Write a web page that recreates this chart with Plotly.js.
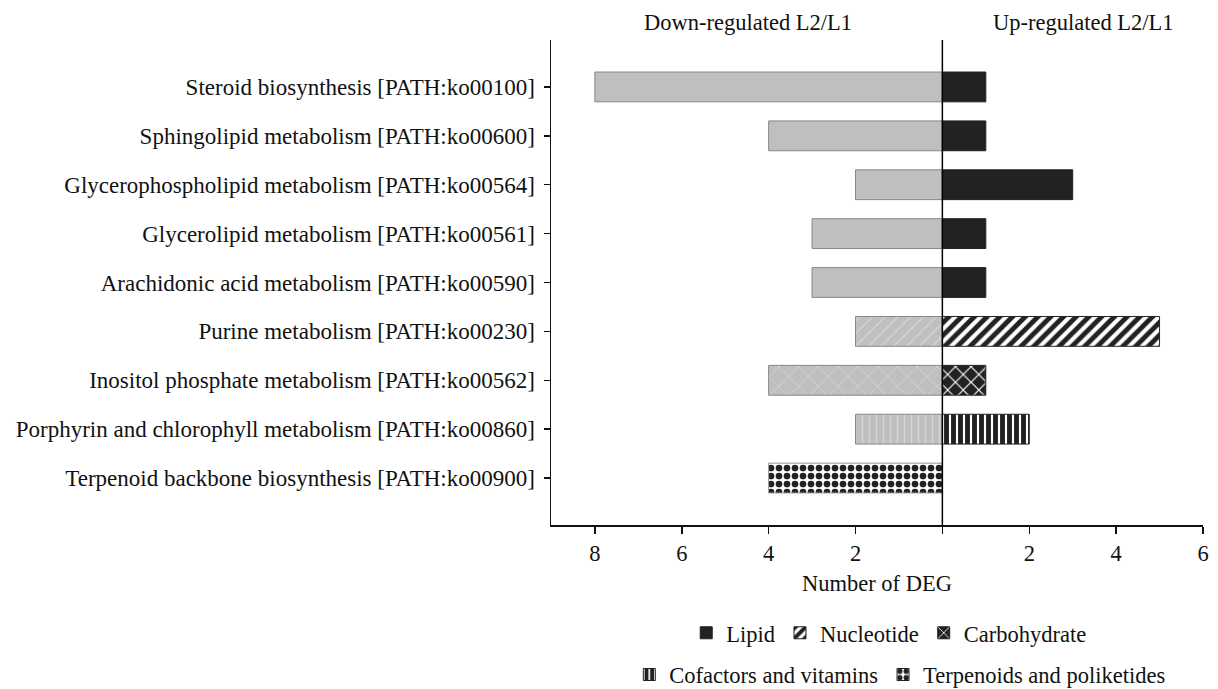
<!DOCTYPE html>
<html>
<head>
<meta charset="utf-8">
<script src="https://cdn.plot.ly/plotly-3.0.1.min.js"></script>
<style>html,body{margin:0;padding:0;background:#fff;}#chart{width:1218px;height:689px;}</style>
</head>
<body>
<div id="chart"></div>
<script>
// ---- data ----
const categories = [
  'Steroid biosynthesis [PATH:ko00100]',
  'Sphingolipid metabolism [PATH:ko00600]',
  'Glycerophospholipid metabolism [PATH:ko00564]',
  'Glycerolipid metabolism [PATH:ko00561]',
  'Arachidonic acid metabolism [PATH:ko00590]',
  'Purine metabolism [PATH:ko00230]',
  'Inositol phosphate metabolism [PATH:ko00562]',
  'Porphyrin and chlorophyll metabolism [PATH:ko00860]',
  'Terpenoid backbone biosynthesis [PATH:ko00900]'
];
const downValues = [8, 4, 2, 3, 3, 2, 4, 2, 4];
const upValues   = [1, 1, 3, 1, 1, 5, 1, 2, 0];
const groups = ['Lipid','Lipid','Lipid','Lipid','Lipid','Nucleotide','Carbohydrate','Cofactors and vitamins','Terpenoids and poliketides'];
const groupNames = ['Lipid','Nucleotide','Carbohydrate','Cofactors and vitamins','Terpenoids and poliketides'];
const xTickVals = [-8, -6, -4, -2, 0, 2, 4, 6];
const xTickText = ['8', '6', '4', '2', '', '2', '4', '6'];

// ---- styles ----
const FONT = '"Liberation Serif", "Times New Roman", serif';
const FS = 22.5;
const upStyle = {
  'Lipid': {shape: '', fg: '#222', bg: '#222', size: 8, solidity: 0.3},
  'Nucleotide': {shape: '/', fg: '#222', bg: '#ffffff', size: 9, solidity: 0.55},
  'Carbohydrate': {shape: 'x', fg: '#ffffff', bg: '#222', size: 11, solidity: 0.2},
  'Cofactors and vitamins': {shape: '|', fg: '#222', bg: '#ffffff', size: 7, solidity: 0.7},
  'Terpenoids and poliketides': {shape: '.', fg: '#222', bg: '#ffffff', size: 8, solidity: 0.55}
};
const downStyle = {
  'Lipid': {shape: '', fg: '#bfbfbf', bg: '#bfbfbf', size: 8, solidity: 0.3},
  'Nucleotide': {shape: '/', fg: '#d6d6d6', bg: '#bfbfbf', size: 9, solidity: 0.15},
  'Carbohydrate': {shape: 'x', fg: '#d6d6d6', bg: '#bfbfbf', size: 14, solidity: 0.12},
  'Cofactors and vitamins': {shape: '|', fg: '#d6d6d6', bg: '#bfbfbf', size: 7, solidity: 0.2},
  'Terpenoids and poliketides': {shape: '.', fg: '#222', bg: '#ffffff', size: 8, solidity: 0.55}
};

const traces = [];
groupNames.forEach((g, gi) => {
  const ys = [], dn = [], up = [];
  categories.forEach((c, i) => {
    if (groups[i] === g) { ys.push(c); dn.push(-downValues[i]); up.push(upValues[i]); }
  });
  const ds = downStyle[g], us = upStyle[g];
  traces.push({
    type: 'bar', orientation: 'h', y: ys, x: dn, showlegend: false, hoverinfo: 'skip',
    marker: {
      color: ds.bg,
      line: {color: g === 'Terpenoids and poliketides' ? '#999' : '#888', width: 1},
      pattern: {shape: ds.shape, fgcolor: ds.fg, bgcolor: ds.bg, size: ds.size, solidity: ds.solidity, fillmode: 'replace'}
    }
  });
  traces.push({
    type: 'bar', orientation: 'h', y: ys, x: up, name: g,
    legend: gi < 3 ? 'legend' : 'legend2', hoverinfo: 'skip',
    marker: {
      color: us.bg,
      line: {color: '#222', width: 1},
      pattern: {shape: us.shape, fgcolor: us.fg, bgcolor: us.bg, size: us.size, solidity: us.solidity, fillmode: 'replace'}
    }
  });
});

const layout = {
  width: 1218, height: 689,
  margin: {l: 551, r: 15, t: 40, b: 164, autoexpand: false},
  paper_bgcolor: '#fff', plot_bgcolor: '#fff',
  font: {family: FONT, size: FS, color: '#111'},
  barmode: 'relative',
  bargap: 0.39,
  xaxis: {
    range: [-9.01, 6], tickvals: xTickVals, ticktext: xTickText,
    ticks: 'outside', ticklen: 7, tickwidth: 1.5, tickcolor: '#111',
    showline: true, linecolor: '#111', linewidth: 1.5, showgrid: false, zeroline: false,
    tickfont: {family: FONT, size: FS, color: '#111'}, automargin: false,
    title: {text: 'Number of DEG', font: {family: FONT, size: FS, color: '#111'}, standoff: 10}
  },
  yaxis: {
    type: 'category', categoryorder: 'array', categoryarray: categories,
    range: [8.96, -0.96], automargin: false,
    ticks: 'outside', ticklen: 6, tickwidth: 1.5, tickcolor: '#111',
    showline: true, linecolor: '#111', linewidth: 1.5, showgrid: false, zeroline: false,
    tickfont: {family: FONT, size: 23, color: '#111'}, ticklabelstandoff: 4
  },
  shapes: [{type: 'line', xref: 'x', yref: 'paper', x0: 0, x1: 0, y0: 0, y1: 1, line: {color: '#000', width: 1.5}}],
  annotations: [
    {text: 'Down-regulated L2/L1', xref: 'x', yref: 'paper', x: -4.48, y: 1.037, showarrow: false, yanchor: 'middle', font: {family: FONT, size: FS, color: '#111'}},
    {text: 'Up-regulated L2/L1', xref: 'x', yref: 'paper', x: 3.26, y: 1.037, showarrow: false, yanchor: 'middle', font: {family: FONT, size: FS, color: '#111'}}
  ],
  legend: {orientation: 'h', x: 0.518, xanchor: 'center', y: -0.223, yanchor: 'middle', font: {family: FONT, size: FS, color: '#111'}, bgcolor: 'rgba(0,0,0,0)', traceorder: 'normal'},
  legend2: {orientation: 'h', x: 0.535, xanchor: 'center', y: -0.309, yanchor: 'middle', font: {family: FONT, size: FS, color: '#111'}, bgcolor: 'rgba(0,0,0,0)', traceorder: 'normal'}
};

Plotly.newPlot('chart', traces, layout, {displayModeBar: false, staticPlot: true});
</script>
</body>
</html>
